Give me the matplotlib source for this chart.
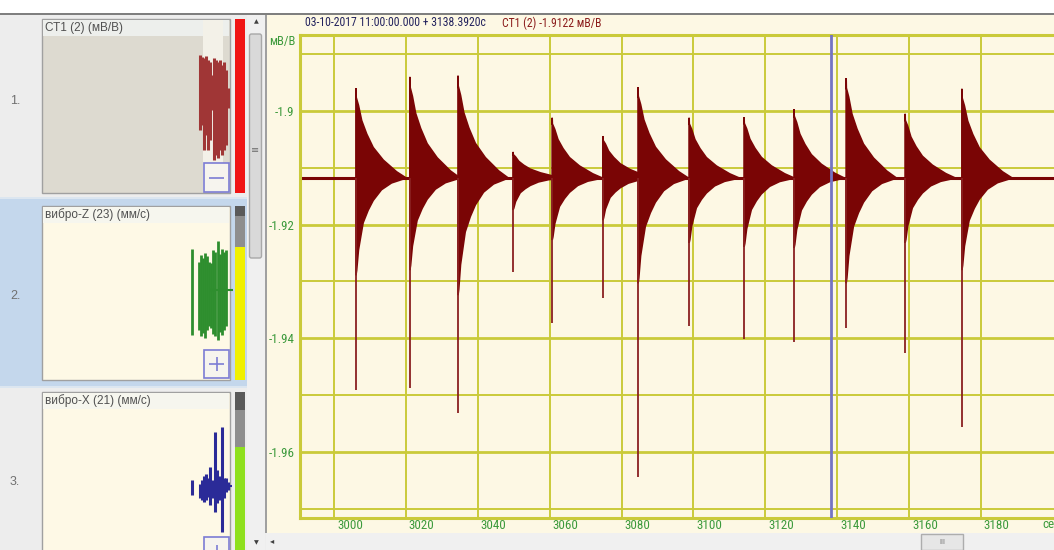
import matplotlib
matplotlib.use("Agg")
import matplotlib.pyplot as plt
from matplotlib import font_manager
from matplotlib.patches import Rectangle, FancyBboxPatch
from matplotlib.transforms import ScaledTranslation

# ---- main trace: CT1 (2), mV/V ----
baseline = -1.9118
burst_t = [3006.1, 3021.1, 3034.5, 3049.8, 3060.7, 3074.8, 3084.6,
           3098.8, 3114.1, 3128.0, 3142.5, 3158.9, 3174.7]
burst_top = [-1.8960, -1.8940, -1.8938, -1.9072, -1.9012, -1.9044, -1.8958,
             -1.9012, -1.9011, -1.8997, -1.8942, -1.9005, -1.8961]
burst_low = [-1.9289, -1.9280, -1.9324, -1.9174, -1.9227, -1.9192, -1.9303,
             -1.9232, -1.9239, -1.9241, -1.9303, -1.9232, -1.9280]
spike_low = [-1.9491, -1.9487, -1.9531, -1.9283, -1.9373, -1.9329, -1.9644,
             -1.9378, -1.9401, -1.9407, -1.9382, -1.9426, -1.9556]
# how the envelope dies out after each hit (seconds after hit, share of first swing)
up_dt = [0, 0.05, 0.7, 1.6, 3.0, 4.8, 7.6, 11.3, 14.0]
up_rel = [1, 0.9, 0.81, 0.64, 0.49, 0.34, 0.20, 0.07, 0.0]
lo_dt = [0, 0.2, 0.7, 1.3, 2.0, 3.4, 4.8, 7.1, 9.9, 14.0]
lo_rel = [1, 0.95, 0.74, 0.61, 0.46, 0.33, 0.23, 0.12, 0.05, 0.0]

cursor_t = 3138.392
xticks = [3000, 3020, 3040, 3060, 3080, 3100, 3120, 3140, 3160, 3180]
yticks = [-1.90, -1.92, -1.94, -1.96]
yticks_minor = [-1.89, -1.91, -1.93, -1.95, -1.97]
ytick_labels = ["-1.9", "-1.92", "-1.94", "-1.96"]

# ---- channel thumbnails (screen rows of the overview strip) ----
thumb1_x = [200, 202, 204, 206, 208, 210, 212, 214, 216, 218, 220, 222, 224, 226, 228]
thumb1_top = [55, 57, 58, 56, 60, 62, 75, 58, 60, 62, 60, 65, 62, 70, 88]
thumb1_bot = [130, 125, 150, 135, 150, 140, 110, 160, 155, 158, 150, 155, 150, 145, 108]

thumb2_x = [192, 199, 201, 203, 205, 207, 209, 211, 213, 215, 218, 220, 222, 224, 226]
thumb2_top = [249, 262, 255, 258, 253, 256, 262, 263, 250, 252, 241, 254, 249, 252, 250]
thumb2_bot = [335, 330, 336, 333, 338, 330, 326, 328, 334, 336, 340, 332, 335, 330, 326]

thumb3_x = [192, 200, 202, 204, 206, 208, 210, 212, 215, 217, 219, 222, 224, 226, 228]
thumb3_top = [480, 484, 480, 476, 474, 478, 467, 480, 432, 470, 476, 427, 478, 478, 482]
thumb3_bot = [495, 498, 500, 502, 500, 497, 505, 498, 512, 503, 500, 532, 498, 492, 490]

channels = ["СТ1 (2) (мВ/В)", "вибро-Z (23) (мм/с)", "вибро-X (21) (мм/с)"]
row_labels = ["1.", "2.", "3."]
row_label_y = [101, 296, 482]

# pick a narrow face if there is one, otherwise shrink the normal one
narrow_name = None
for name in ["Liberation Sans Narrow", "DejaVu Sans Condensed", "Roboto Condensed"]:
    try:
        font_manager.findfont(name, fallback_to_default=False)
        narrow_name = name
        break
    except Exception:
        pass
if narrow_name:
    narrow = [narrow_name, "DejaVu Sans"]
    nsize = 9
else:
    narrow = ["Liberation Sans", "DejaVu Sans"]
    nsize = 7.6
plain = ["Liberation Sans", "DejaVu Sans"]

cream = "#FDF8E4"
grid_c = "#CACA3A"
trace_c = "#7A0505"
green_txt = "#3C9A3C"

W, H = 1054, 550
fig = plt.figure(figsize=(W / 100, H / 100), dpi=100, facecolor="white")

# screen-space layer for the window chrome
ui = fig.add_axes([0, 0, 1, 1])
ui.set_xlim(0, W)
ui.set_ylim(H, 0)
ui.axis("off")


def rect(x0, y0, x1, y1, fc, ec="none", lw=0, z=1):
    ui.add_patch(Rectangle((x0, y0), x1 - x0, y1 - y0, facecolor=fc,
                           edgecolor=ec, linewidth=lw, zorder=z))


rect(0, 14, W, H, "#EDEDED")
rect(0, 13, W, 15, "#7F7F7F", z=5)
rect(0, 198, 247, 387, "#C4D7EC")
rect(0, 197, 247, 199, "#DCE6F0", z=2)
rect(0, 386, 247, 388, "#DCE6F0", z=2)

# left scrollbar
rect(247, 15, 265, H, "#F0F0F0")
ui.add_patch(FancyBboxPatch((249.5, 34), 12, 224, boxstyle="round,pad=0,rounding_size=2",
                            facecolor="#D9D9D9", edgecolor="#A8A8A8", lw=1, zorder=3))
ui.text(255.5, 150, "≡", fontsize=7, color="#707070", ha="center", va="center", zorder=4)
ui.text(256, 22, "▲", fontsize=4.5, color="#404040", ha="center", va="center")
ui.text(256, 543, "▼", fontsize=4.5, color="#404040", ha="center", va="center")

# main view area
rect(265, 15, W, 533, cream)
rect(265, 15, 266.5, 533, "#A0A0A0", z=2)
rect(266, 533, W, H, "#F0F0F0")
ui.text(272, 541, "◂", fontsize=6, color="#404040", ha="center", va="center")
rect(921, 534, 963, H, "#E6E6E6", ec="#ADADAD", lw=1, z=3)
ui.text(942, 542, "III", fontsize=5, color="#707070", ha="center", va="center", zorder=4)

# thumbnails
boxes = [(19, 193, "#DDDAD0", "#EDEFEC"), (206, 380, "#FEF9E6", "#F6F6EE"),
         (392, 560, "#FEF9E6", "#F6F6EE")]
for i, (y0, y1, body, head) in enumerate(boxes):
    rect(42, y0, 230, y1, body, ec="#A0A0A0", lw=1, z=2)
    rect(43, y0 + 1, 229, y0 + 17, head, z=2)
    ui.text(45, y0 + 9, channels[i], fontsize=8.5, color="#505050", family=plain,
            ha="left", va="center", zorder=5)
    ui.text(10, row_label_y[i], row_labels[i], fontsize=9, color="#707070",
            family=plain, ha="left", va="center")

rect(203, 20, 223, 192, "#F3F1E8", z=2)  # current view window
# level bars at right of thumbnails
rect(235, 19, 245, 193, "#F01414", z=2)
rect(235, 206, 245, 216, "#5A5A5A", z=2)
rect(235, 216, 245, 247, "#8E8E8E", z=2)
rect(235, 247, 245, 380, "#F0F000", z=2)
rect(235, 392, 245, 410, "#5A5A5A", z=2)
rect(235, 410, 245, 447, "#8E8E8E", z=2)
rect(235, 447, 245, H, "#8EE01E", z=2)

ui.vlines(thumb1_x, thumb1_top, thumb1_bot, color="#A03636", lw=2.2, zorder=3)
ui.vlines(thumb2_x, thumb2_top, thumb2_bot, color="#2E8E2E", lw=2.0, zorder=3)
ui.hlines(290, 210, 233, color="#2E8E2E", lw=1.5, zorder=3)
ui.vlines(thumb3_x, thumb3_top, thumb3_bot, color="#2B2B98", lw=2.2, zorder=3)
ui.hlines(486, 224, 232, color="#2B2B98", lw=1.5, zorder=3)

# zoom buttons
for (y0, y1, sign) in [(163, 192, "minus"), (350, 378, "plus"), (537, 566, "plus")]:
    rect(204, y0, 229, y1, "#F6F4EE", ec="#7C7CD4", lw=1.2, z=4)
    cy = (y0 + y1) / 2
    ui.hlines(cy, 209, 224, color="#7C7CD4", lw=1.2, zorder=5)
    if sign == "plus":
        ui.vlines(216.5, cy - 7, cy + 7, color="#7C7CD4", lw=1.2, zorder=5)

# ---- plot axes ----
px_per_s = 3.594
px_per_v = 5683.0
x_left = 3000 - (334 - 300) / px_per_s
x_right = 3000 + (1062 - 334) / px_per_s
y_top = -1.9 + (111 - 35) / px_per_v
y_bot = -1.9 - (518 - 111) / px_per_v

ax = fig.add_axes([300 / W, (H - 518) / H, (1062 - 300) / W, (518 - 35) / H])
ax.set_facecolor(cream)
ax.set_xlim(x_left, x_right)
ax.set_ylim(y_bot, y_top)

ax.set_yticks(yticks)
ax.set_yticklabels(ytick_labels)
ax.set_yticks(yticks_minor, minor=True)
ax.set_xticks(xticks)
ax.set_xticklabels([str(v) for v in xticks])
ax.tick_params(which="both", length=0)
ax.tick_params(axis="y", pad=4, labelsize=nsize + 0.4, labelcolor=green_txt)
ax.tick_params(axis="x", pad=1, labelsize=nsize + 0.4, labelcolor=green_txt)
shift = ScaledTranslation(3 / 100, 0, fig.dpi_scale_trans)
for lbl in ax.get_xticklabels():
    lbl.set_horizontalalignment("left")
    lbl.set_transform(lbl.get_transform() + shift)
for lbl in ax.get_xticklabels() + ax.get_yticklabels():
    lbl.set_family(narrow)

ax.grid(which="major", axis="y", color=grid_c, lw=2.0)
ax.grid(which="minor", axis="y", color=grid_c, lw=1.4)
ax.grid(which="major", axis="x", color=grid_c, lw=1.4)
ax.set_axisbelow(True)
for s in ["left", "bottom", "top"]:
    ax.spines[s].set_color(grid_c)
    ax.spines[s].set_linewidth(2.2)
ax.spines["right"].set_visible(False)

ax.plot([x_left, x_right], [baseline, baseline], color=trace_c, lw=2.2, zorder=2)
for t, top, low in zip(burst_t, burst_top, burst_low):
    xs = [t + d for d in up_dt] + [t + d for d in reversed(lo_dt)]
    ys = ([baseline + (top - baseline) * r for r in up_rel] +
          [baseline + (low - baseline) * r for r in reversed(lo_rel)])
    ax.fill(xs, ys, facecolor=trace_c, edgecolor=trace_c, lw=1.2, zorder=3)
ax.vlines(burst_t, spike_low, baseline, color="#8A2020", lw=1.3, zorder=3)
ax.axvline(cursor_t, color="#7474C4", lw=2, zorder=4)

# header and unit labels
fig.text(305 / W, 1 - 23 / H, "03-10-2017 11:00:00.000 + 3138.3920с", fontsize=nsize - 0.5,
         family=narrow, color="#23235E", ha="left", va="center")
fig.text(502 / W, 1 - 23 / H, "СТ1 (2) -1.9122 мВ/В", fontsize=nsize - 0.5,
         family=narrow, color="#8B1C1C", ha="left", va="center")
fig.text(295 / W, 1 - 42 / H, "мВ/В", fontsize=nsize, family=narrow,
         color=green_txt, ha="right", va="center")
fig.text(1042 / W, 1 - 524 / H, "се", fontsize=nsize + 0.4, family=narrow,
         color=green_txt, ha="left", va="center")

fig.savefig("out.png", dpi=100, facecolor=fig.get_facecolor())
